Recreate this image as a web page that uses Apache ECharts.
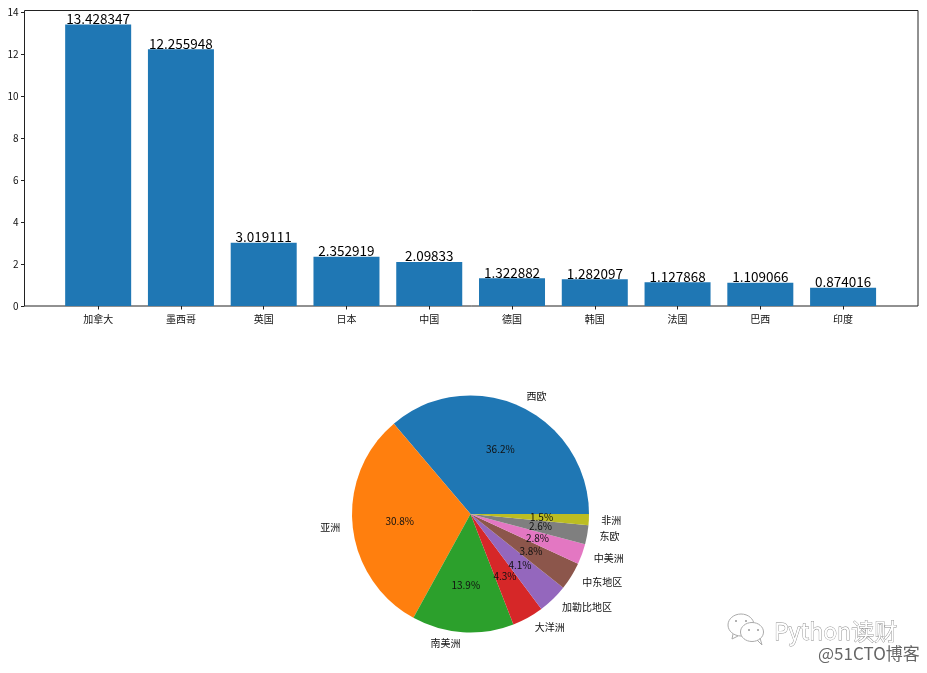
<!DOCTYPE html>
<html>
<head>
<meta charset="utf-8">
<title>chart</title>
<script src="https://cdn.jsdelivr.net/npm/echarts@6/dist/echarts.min.js"></script>
<style>
  html, body { margin: 0; padding: 0; background: #fff; }
  #chart { width: 927px; height: 673px; }
</style>
</head>
<body>
<div id="chart"></div>
<script>
const countries = ['加拿大', '墨西哥', '英国', '日本', '中国', '德国', '韩国', '法国', '巴西', '印度'];
const amounts = [13.428347, 12.255948, 3.019111, 2.352919, 2.09833, 1.322882, 1.282097, 1.127868, 1.109066, 0.874016];
const xTicks = [0, 1, 2, 3, 4, 5, 6, 7, 8, 9];
const yTicks = [0, 2, 4, 6, 8, 10, 12, 14];

const regions = ['西欧', '亚洲', '南美洲', '大洋洲', '加勒比地区', '中东地区', '中美洲', '东欧', '非洲'];
const shares = [36.2, 30.8, 13.9, 4.3, 4.1, 3.8, 2.8, 2.6, 1.5];
const pieColors = ['#1f77b4', '#ff7f0e', '#2ca02c', '#d62728', '#9467bd', '#8c564b', '#e377c2', '#7f7f7f', '#bcbd22'];

const FONT = '"Noto Sans CJK SC", sans-serif';
const PIE_CENTER = [470.5, 514];
const PIE_R = 118.5;

const chart = echarts.init(document.getElementById('chart'), null, { renderer: 'canvas' });

chart.setOption({
  animation: false,
  textStyle: { fontFamily: FONT },
  grid: {
    left: 24.5, right: 9, top: 10.5, height: 295.5,
    show: true, borderColor: '#222', borderWidth: 1, backgroundColor: 'transparent'
  },
  xAxis: {
    type: 'value',
    min: -0.89,
    max: 9.905,
    splitLine: { show: false },
    axisLine: { show: false, onZero: false },
    axisTick: { show: true, length: 3.5, customValues: xTicks, lineStyle: { color: '#222', width: 1 } },
    axisLabel: {
      customValues: xTicks,
      formatter: v => countries[v],
      color: '#111', fontSize: 10, fontFamily: FONT, margin: 8
    }
  },
  yAxis: {
    type: 'value',
    min: 0,
    max: 14.1,
    splitLine: { show: false },
    axisLine: { show: false, onZero: false },
    axisTick: { show: true, length: 3.5, customValues: yTicks, lineStyle: { color: '#222', width: 1 } },
    axisLabel: {
      customValues: yTicks,
      color: '#111', fontSize: 10, fontFamily: FONT, margin: 6
    }
  },
  series: [
    {
      type: 'bar',
      barWidth: 66,
      itemStyle: { color: '#1f77b4' },
      label: {
        show: true,
        position: 'top',
        distance: -1,
        formatter: p => String(p.value[1]),
        color: '#000',
        fontSize: 13.5,
        fontFamily: FONT
      },
      data: amounts.map((v, i) => [i, v])
    },
    // outer names
    {
      type: 'pie',
      center: PIE_CENTER,
      radius: [0, PIE_R],
      startAngle: 0,
      clockwise: false,
      avoidLabelOverlap: false,
      color: pieColors,
      label: {
        show: true,
        position: 'outside',
        formatter: '{b}',
        color: '#111',
        fontSize: 10,
        fontFamily: FONT,
        distanceToLabelLine: 1.5
      },
      labelLine: { show: false, length: 11, length2: 0 },
      emphasis: { disabled: true },
      data: regions.map((name, i) => ({ name, value: shares[i] }))
    },
    // percent text sits near 0.6 of the radius, hence the hollow ring on top
    {
      type: 'pie',
      center: PIE_CENTER,
      radius: [PIE_R * 0.15, PIE_R],
      startAngle: 0,
      clockwise: false,
      avoidLabelOverlap: false,
      itemStyle: { color: 'transparent' },
      labelLayout: { hideOverlap: false },
      label: {
        show: true,
        position: 'inside',
        minMargin: 0,
        formatter: p => p.value.toFixed(1) + '%',
        color: '#111',
        fontSize: 10,
        fontFamily: FONT
      },
      labelLine: { show: false },
      emphasis: { disabled: true },
      data: regions.map((name, i) => ({ name, value: shares[i] }))
    }
  ],
  graphic: [
    // watermark
    { type: 'ellipse', shape: { cx: 741, cy: 625, rx: 13, ry: 11 }, style: { fill: '#fff', stroke: '#aaa', lineWidth: 1 } },
    { type: 'ellipse', shape: { cx: 752, cy: 632, rx: 11.5, ry: 9.5 }, style: { fill: '#fff', stroke: '#aaa', lineWidth: 1 } },
    { type: 'polyline', shape: { points: [[733, 634], [732, 639], [738, 636]] }, style: { fill: 'none', stroke: '#aaa', lineWidth: 1 } },
    { type: 'polyline', shape: { points: [[757, 640], [762, 645], [760, 638]] }, style: { fill: 'none', stroke: '#aaa', lineWidth: 1 } },
    { type: 'circle', shape: { cx: 736, cy: 621, r: 1 }, style: { fill: '#999' } },
    { type: 'circle', shape: { cx: 746, cy: 621, r: 1 }, style: { fill: '#999' } },
    { type: 'circle', shape: { cx: 749, cy: 630, r: 1 }, style: { fill: '#999' } },
    { type: 'circle', shape: { cx: 758, cy: 630, r: 1 }, style: { fill: '#999' } },
    {
      type: 'text', x: 774, y: 631,
      style: {
        text: 'Python读财', font: '23px "Noto Sans CJK SC"', fill: '#fff',
        stroke: '#888', lineWidth: 0.8, textVerticalAlign: 'middle'
      }
    },
    {
      type: 'text', x: 818, y: 654,
      style: {
        text: '@51CTO博客', font: '17px "Noto Sans CJK SC"', fill: '#666',
        textVerticalAlign: 'middle'
      }
    }
  ]
});
</script>
</body>
</html>
